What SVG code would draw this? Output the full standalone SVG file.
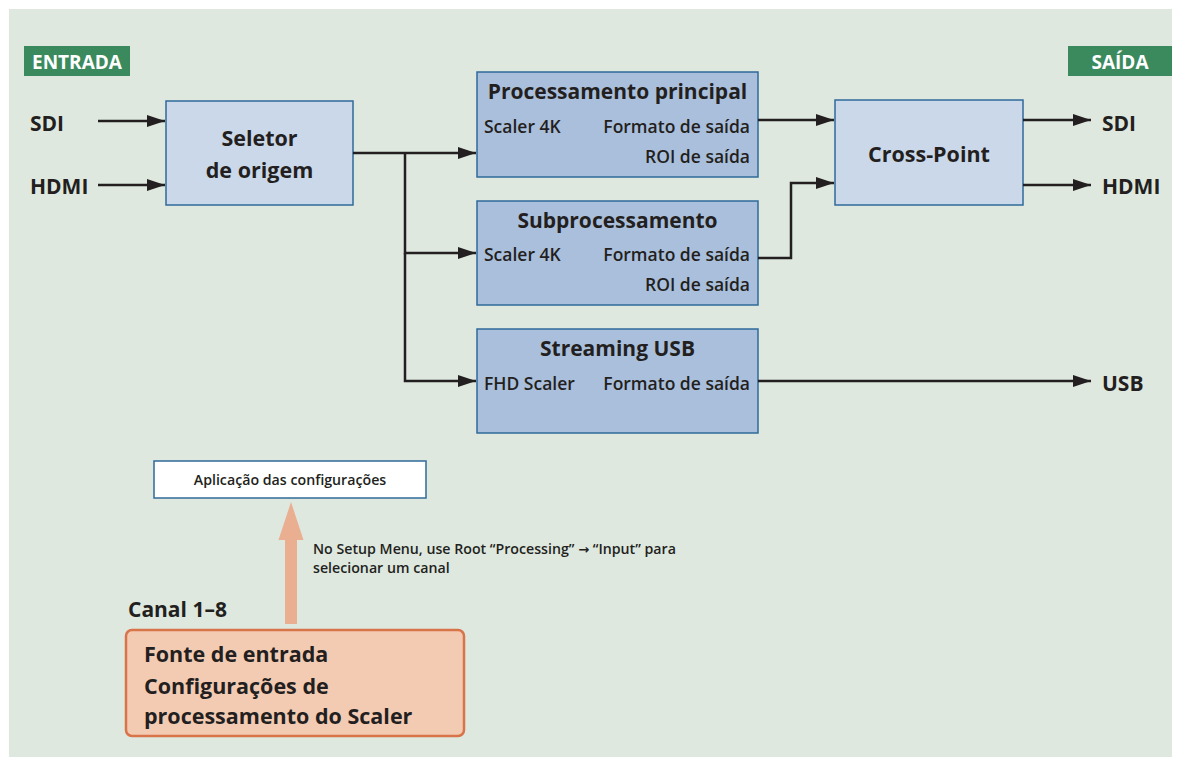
<svg xmlns="http://www.w3.org/2000/svg" width="1179" height="766" viewBox="0 0 1179 766">
<defs>
<marker id="ah" viewBox="0 0 18 12" refX="18" refY="6" markerWidth="18" markerHeight="12" markerUnits="userSpaceOnUse" orient="auto">
<path d="M0,0 L18,6 L0,12 Z" fill="#231f20"/>
</marker>
</defs>
<style>
text{font-family:"Open Sans","Noto Sans","Liberation Sans",sans-serif;fill:#231f20}
.b{font-weight:700}
.sb{font-weight:600}
.lbl{font-size:21px;font-weight:700}
.tag{font-size:19px;font-weight:700;fill:#ffffff}
.box1{fill:#cbd8ea;stroke:#2f6a9a;stroke-width:1.5}
.box2{fill:#aabfdc;stroke:#2f6a9a;stroke-width:1.5}
.ttl{font-size:21px;font-weight:700}
.row{font-size:17.5px;font-weight:600}
.con{fill:none;stroke:#231f20;stroke-width:2.5}
.arw{font-family:"DejaVu Sans",sans-serif}
</style>
<rect x="0" y="0" width="1179" height="766" fill="#ffffff"/>
<rect x="9" y="9" width="1163" height="748" fill="#dee8df"/>

<g id="entrada">
<rect x="24" y="46" width="106" height="30" fill="#3a8a5e"/>
<text class="tag" x="77" y="69" text-anchor="middle">ENTRADA</text>
</g>
<g id="saida">
<rect x="1068" y="46" width="104" height="30" fill="#3a8a5e"/>
<text class="tag" x="1120" y="69" text-anchor="middle">SAÍDA</text>
</g>

<g id="in-labels">
<text class="lbl" x="30" y="131">SDI</text>
<text class="lbl" x="30" y="194">HDMI</text>
</g>
<g id="out-labels">
<text class="lbl" x="1102" y="131">SDI</text>
<text class="lbl" x="1102" y="194">HDMI</text>
<text class="lbl" x="1102" y="391">USB</text>
</g>

<g id="seletor">
<rect class="box1" x="166" y="101" width="187" height="104"/>
<text class="b" font-size="21.5" x="259.5" y="146" text-anchor="middle">Seletor</text>
<text class="b" font-size="21.5" x="259.5" y="178" text-anchor="middle">de origem</text>
</g>

<g id="proc-principal">
<rect class="box2" x="477" y="72" width="281" height="105"/>
<text class="ttl" x="617.5" y="99" text-anchor="middle">Processamento principal</text>
<text class="row" x="484" y="133">Scaler 4K</text>
<text class="row" x="750" y="133" text-anchor="end">Formato de saída</text>
<text class="row" x="750" y="163" text-anchor="end">ROI de saída</text>
</g>

<g id="subproc">
<rect class="box2" x="477" y="201" width="281" height="104"/>
<text class="ttl" x="617.5" y="228" text-anchor="middle">Subprocessamento</text>
<text class="row" x="484" y="261">Scaler 4K</text>
<text class="row" x="750" y="261" text-anchor="end">Formato de saída</text>
<text class="row" x="750" y="291" text-anchor="end">ROI de saída</text>
</g>

<g id="streaming">
<rect class="box2" x="477" y="329" width="281" height="104"/>
<text class="ttl" x="617.5" y="356" text-anchor="middle">Streaming USB</text>
<text class="row" x="484" y="390">FHD Scaler</text>
<text class="row" x="750" y="390" text-anchor="end">Formato de saída</text>
</g>

<g id="crosspoint">
<rect class="box1" x="835" y="100" width="188" height="105"/>
<text class="b" font-size="21.5" x="929" y="162" text-anchor="middle">Cross-Point</text>
</g>

<g id="connectors">
<line class="con" x1="98" y1="121" x2="165" y2="121" marker-end="url(#ah)"/>
<line class="con" x1="98" y1="185" x2="165" y2="185" marker-end="url(#ah)"/>
<polyline class="con" points="353,153 476,153" marker-end="url(#ah)"/>
<polyline class="con" points="405,153 405,253 476,253" marker-end="url(#ah)"/>
<polyline class="con" points="405,253 405,381 476,381" marker-end="url(#ah)"/>
<line class="con" x1="758" y1="120" x2="834" y2="120" marker-end="url(#ah)"/>
<polyline class="con" points="758,258 791,258 791,183 834,183" marker-end="url(#ah)"/>
<line class="con" x1="1023" y1="120" x2="1091" y2="120" marker-end="url(#ah)"/>
<line class="con" x1="1023" y1="185" x2="1091" y2="185" marker-end="url(#ah)"/>
<line class="con" x1="758" y1="381" x2="1091" y2="381" marker-end="url(#ah)"/>
<polygon points="285,624 297,624 297,540 303.5,540 291,502 278.5,540 285,540" fill="#eaae90"/>
</g>

<g id="aplicacao">
<rect x="154" y="461" width="272" height="37" fill="#ffffff" stroke="#2f6a9a" stroke-width="1.5"/>
<text class="sb" font-size="14.2" x="290" y="484.5" text-anchor="middle">Aplicação das configurações</text>
</g>

<g id="nota">
<text class="sb" font-size="14.2" x="313" y="554">No Setup Menu, use Root “Processing” <tspan class="arw" font-size="13">→</tspan> “Input” para</text>
<text class="sb" font-size="14.2" x="313" y="573">selecionar um canal</text>
</g>

<g id="canal">
<text class="b" font-size="21" x="128" y="617">Canal 1–8</text>
<rect x="126" y="630" width="338" height="106" rx="6" ry="6" fill="#f3cbb3" stroke="#d9744a" stroke-width="2.5"/>
<text class="b" font-size="21.5" x="144" y="662">Fonte de entrada</text>
<text class="b" font-size="21.5" x="144" y="694">Configurações de</text>
<text class="b" font-size="21.5" x="144" y="724">processamento do Scaler</text>
</g>
</svg>
